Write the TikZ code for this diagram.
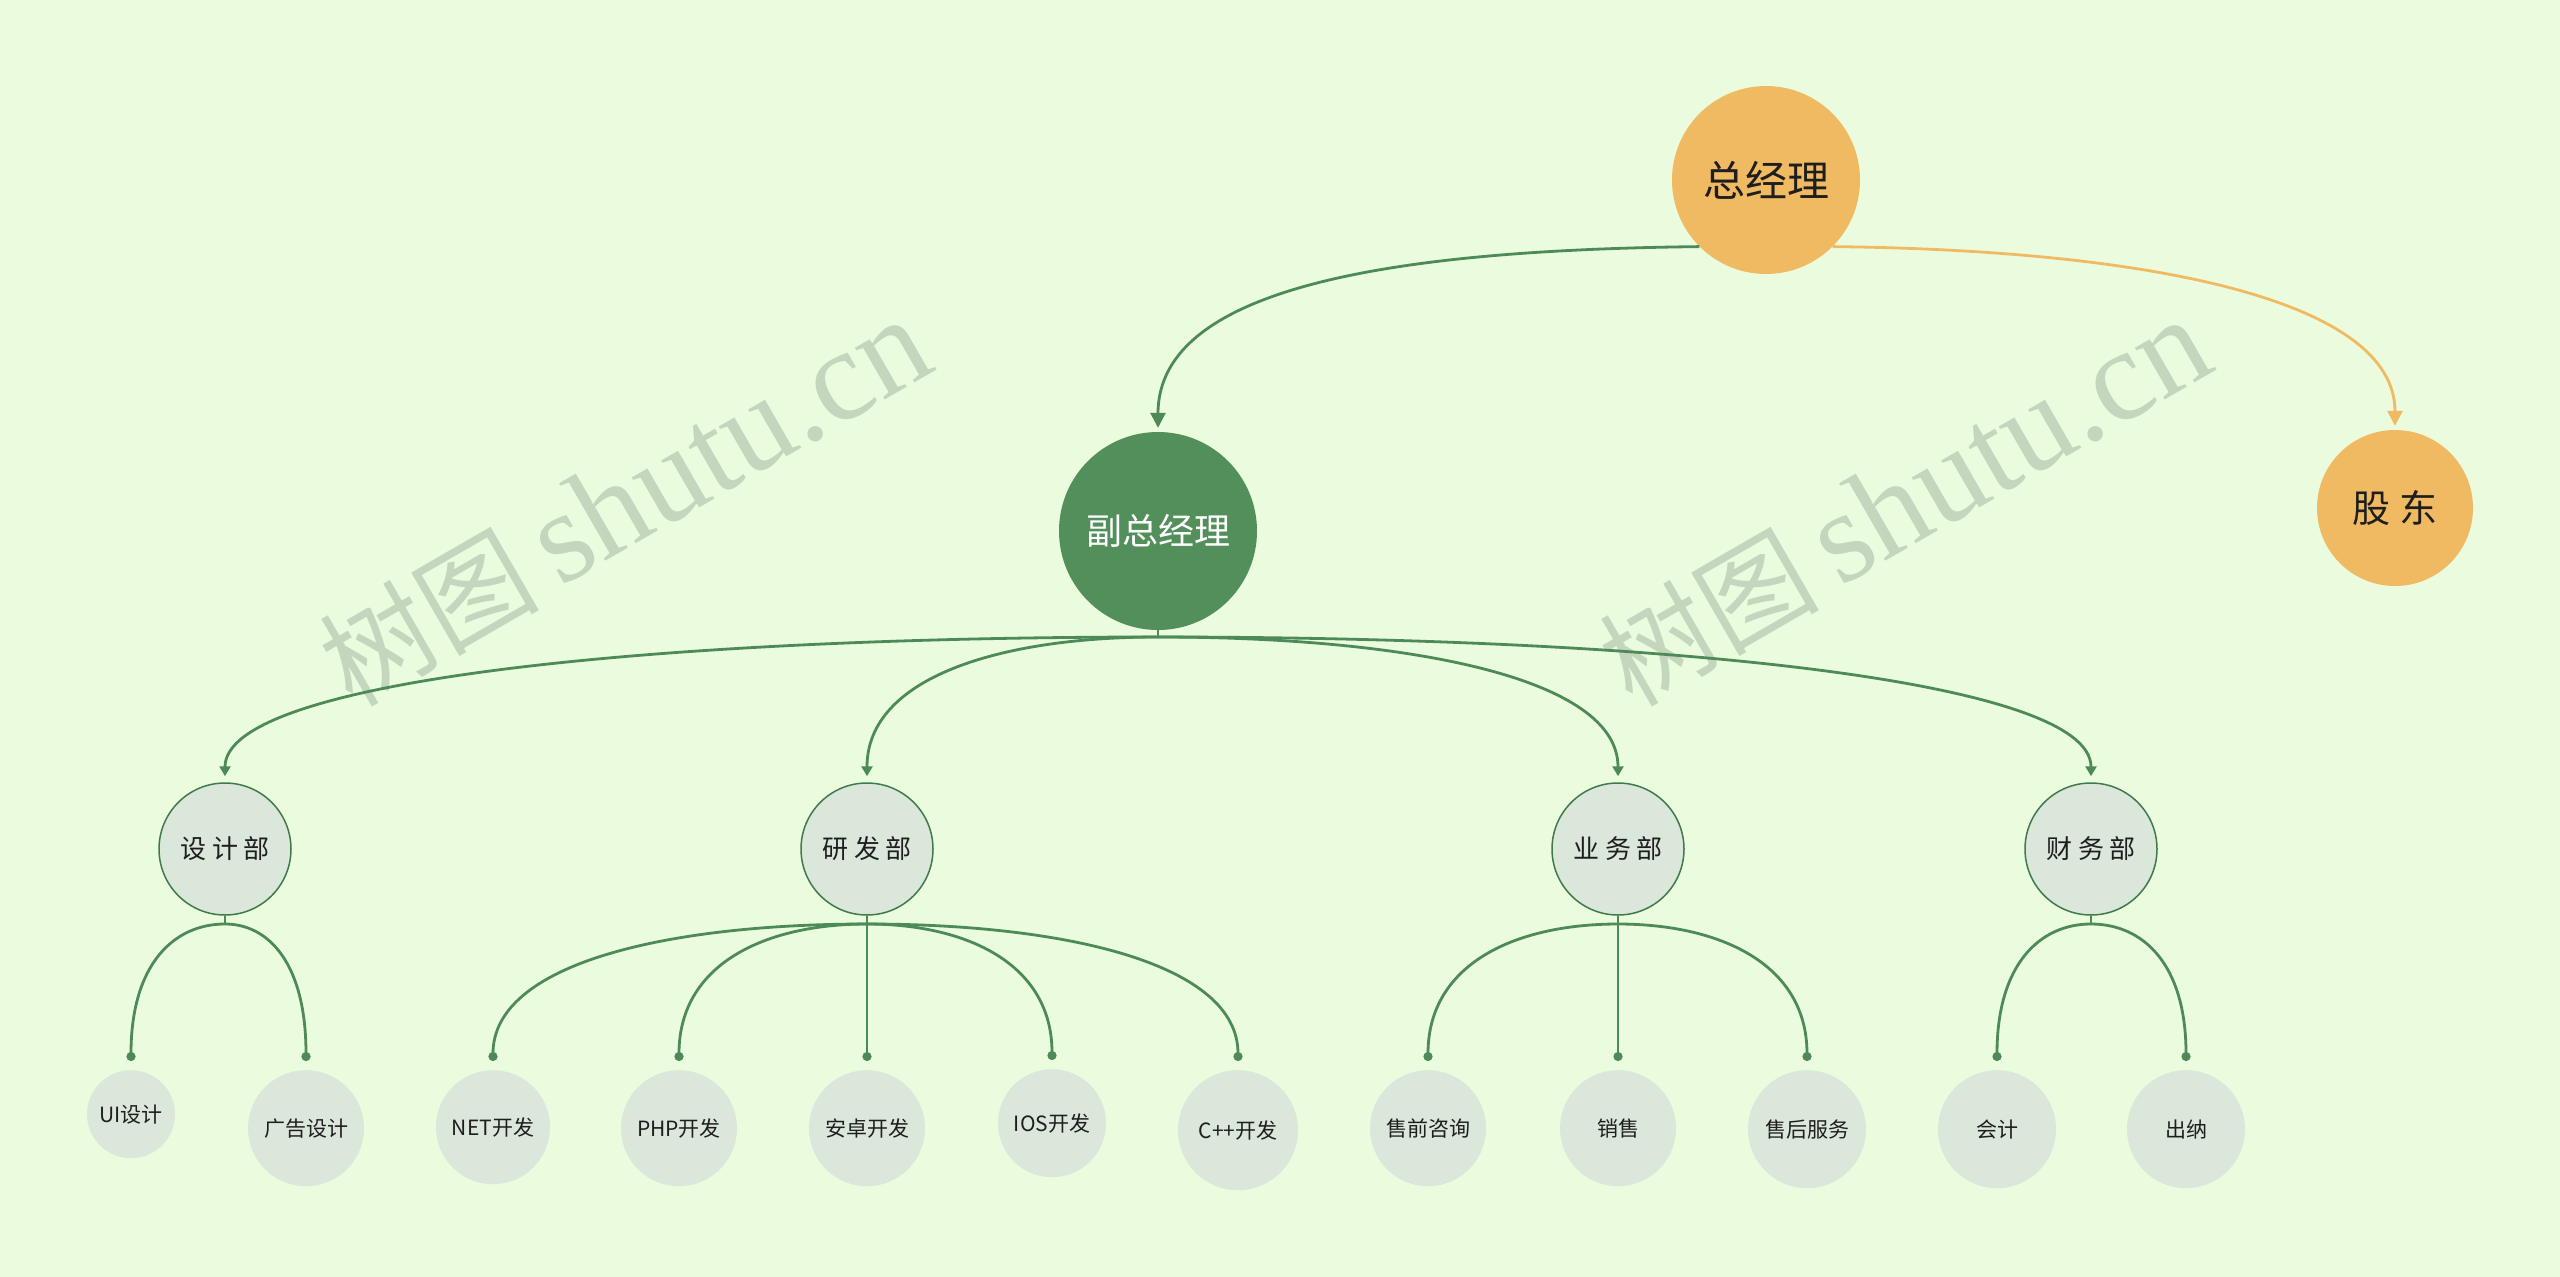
\documentclass[tikz,border=0pt]{standalone}
\usepackage{fontspec}
\setmainfont{Noto Sans CJK SC}
\newfontfamily\wmlatin{Liberation Serif}
\usetikzlibrary{arrows.meta,calc}
\definecolor{bgc}{HTML}{EAFCDD}
\definecolor{gline}{HTML}{4E8A57}
\definecolor{gfill}{HTML}{528F5B}
\definecolor{orng}{HTML}{F0BA62}
\definecolor{nodefill}{HTML}{DAE7DA}
\definecolor{nodeedge}{HTML}{3F7A4A}
\definecolor{wmc}{HTML}{C4D6BE}
\definecolor{txt}{HTML}{1E1E1E}
\begin{document}
\begin{tikzpicture}[x=1pt,y=-1pt,
  ball/.style={circle, inner sep=0pt, text=txt},
  bossnode/.style={ball, fill=orng, minimum size=188pt, font=\fontsize{42}{50}\selectfont},
  sharenode/.style={ball, fill=orng, minimum size=156pt, font=\fontsize{38}{46}\selectfont},
  vicenode/.style={ball, fill=gfill, text=white, minimum size=198pt, font=\fontsize{36}{44}\selectfont},
  deptnode/.style={ball, fill=nodefill, draw=nodeedge, line width=1.5pt, minimum size=132pt, font=\fontsize{26}{32}\selectfont},
  leafnode/.style={ball, fill=nodefill, anchor=north, minimum size=#1, font=\fontsize{21}{26}\selectfont},
  wmlat/.style={text=wmc, inner sep=0pt, rotate=30, anchor=base west, font=\wmlatin\fontsize{130}{140}\selectfont},
  wmcjk/.style={text=wmc, inner sep=0pt, rotate=30, anchor=base east, font=\fontsize{110}{120}\selectfont},
  link/.style={draw=gline, line width=2.8pt},
  olink/.style={draw=orng, line width=2.8pt},
  bigarr/.style={-{Triangle[length=15pt,width=15pt]}, shorten >=4pt},
  arr/.style={-{Triangle[length=10pt,width=11pt]}, shorten >=6pt},
  dotend/.style={-{Circle[length=9pt]}, shorten >=9pt}
]
\fill[bgc] (0,0) rectangle (2560,1277);
\useasboundingbox (0,0) rectangle (2560,1277);

% watermarks
\node[wmlat] (wm1l) at (560,588) {shutu.cn};
\node[wmcjk] (wm1c) at (543,598) {树图};
\node[wmlat] (wm2l) at (1840,588) {shutu.cn};
\node[wmcjk] (wm2c) at (1823,598) {树图};

% top level
\node[bossnode] (zjl) at (1766,180) {总经理};
\node[sharenode] (gd) at (2395,508) {股 东};
\node[vicenode] (fzjl) at (1158,531) {副总经理};

\draw[link, bigarr] (zjl.south west) .. controls (1400,250) and (1158,285) .. (fzjl.north);
\draw[olink, bigarr] (zjl.south east) .. controls (2150,250) and (2395,300) .. (gd.north);

% departments
\node[deptnode] (sj) at (225,849) {设 计 部};
\node[deptnode] (yf) at (867,849) {研 发 部};
\node[deptnode] (yw) at (1618,849) {业 务 部};
\node[deptnode] (cw) at (2091,849) {财 务 部};

\coordinate (fj) at (1158,637);
\draw[link] (fzjl.south) -- (fj);
\draw[link, arr] (fj) .. controls (654,637) and (225,680) .. (sj.north);
\draw[link, arr] (fj) .. controls (1001,637) and (867,677) .. (yf.north);
\draw[link, arr] (fj) .. controls (1406,637) and (1618,677) .. (yw.north);
\draw[link, arr] (fj) .. controls (1662,637) and (2091,680) .. (cw.north);

% leaves
\node[leafnode=88pt] (ui) at (131,1070) {UI设计};
\node[leafnode=116pt] (gg) at (306,1070) {广告设计};
\node[leafnode=114pt] (net) at (493,1070) {NET开发};
\node[leafnode=116pt] (php) at (679,1070) {PHP开发};
\node[leafnode=116pt] (az) at (867,1070) {安卓开发};
\node[leafnode=108pt] (ios) at (1052,1069) {IOS开发};
\node[leafnode=120pt] (cpp) at (1238,1070) {C++开发};
\node[leafnode=116pt] (sq) at (1428,1070) {售前咨询};
\node[leafnode=116pt] (xs) at (1618,1070) {销售};
\node[leafnode=118pt] (sh) at (1807,1070) {售后服务};
\node[leafnode=118pt] (kj) at (1997,1070) {会计};
\node[leafnode=118pt] (cn) at (2186,1070) {出纳};

\coordinate (sjj) at (225,924);
\coordinate (yfj) at (867,924);
\coordinate (ywj) at (1618,924);
\coordinate (cwj) at (2091,924);
\draw[link] (sj.south) -- (sjj);
\draw[link] (yf.south) -- (yfj);
\draw[link] (yw.south) -- (ywj);
\draw[link] (cw.south) -- (cwj);

\draw[link, dotend] (sjj) .. controls (174,924) and (131,964) .. (ui.north);
\draw[link, dotend] (sjj) .. controls (269,924) and (306,964) .. (gg.north);

\draw[link, dotend] (yfj) .. controls (665,924) and (493,964) .. (net.north);
\draw[link, dotend] (yfj) .. controls (765,924) and (679,964) .. (php.north);
\draw[link, dotend] (yfj) -- (az.north);
\draw[link, dotend] (yfj) .. controls (967,924) and (1052,964) .. (ios.north);
\draw[link, dotend] (yfj) .. controls (1067,924) and (1238,964) .. (cpp.north);

\draw[link, dotend] (ywj) .. controls (1515,924) and (1428,964) .. (sq.north);
\draw[link, dotend] (ywj) -- (xs.north);
\draw[link, dotend] (ywj) .. controls (1720,924) and (1807,964) .. (sh.north);

\draw[link, dotend] (cwj) .. controls (2040,924) and (1997,964) .. (kj.north);
\draw[link, dotend] (cwj) .. controls (2143,924) and (2186,964) .. (cn.north);
\end{tikzpicture}
\end{document}
